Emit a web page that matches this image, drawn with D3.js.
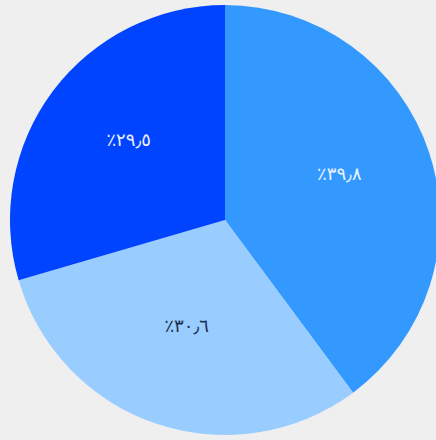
<!DOCTYPE html>
<html>
<head>
<meta charset="utf-8">
<script src="https://cdn.jsdelivr.net/npm/d3@7"></script>
<style>
  html, body { margin: 0; padding: 0; background: #efefef; }
  svg { display: block; }
</style>
</head>
<body>
<svg id="chart" width="436" height="440"></svg>
<script>
const categories = ["الفئة أ", "الفئة ب", "الفئة ج"];
const values = [39.8, 30.6, 29.5];
const colors = ["#3399ff", "#99ccff", "#0044ff"];
const labelColors = ["#eaf4ff", "#1d2f4f", "#eaf0ff"];

const arabicDigits = "٠١٢٣٤٥٦٧٨٩";
function toArabic(v) {
  const s = v.toFixed(1).replace(/[0-9]/g, d => arabicDigits[+d]).replace(".", "٫");
  return "٪" + s;
}

const width = 436, height = 440;
const cx = 225, cy = 220, r = 215;

const svg = d3.select("#chart");
const g = svg.append("g").attr("transform", `translate(${cx},${cy})`);

const data = categories.map((c, i) => ({ name: c, value: values[i], i }));
const pie = d3.pie().sort(null).value(d => d.value);
const arc = d3.arc().innerRadius(0).outerRadius(r);
const labelArc = d3.arc().innerRadius(r * 0.56).outerRadius(r * 0.56);

const arcs = pie(data);

g.selectAll("path.slice")
  .data(arcs)
  .join("path")
  .attr("class", "slice")
  .attr("d", arc)
  .attr("fill", d => colors[d.data.i]);

g.selectAll("text.lbl")
  .data(arcs)
  .join("text")
  .attr("class", "lbl")
  .attr("transform", d => `translate(${labelArc.centroid(d)})`)
  .attr("text-anchor", "middle")
  .attr("dy", "-0.1em")
  .attr("direction", "ltr")
  .style("font-family", "'DejaVu Sans', 'Noto Sans', sans-serif")
  .style("font-size", "18px")
  .attr("fill", d => labelColors[d.data.i])
  .text(d => toArabic(d.data.value));
</script>
</body>
</html>
